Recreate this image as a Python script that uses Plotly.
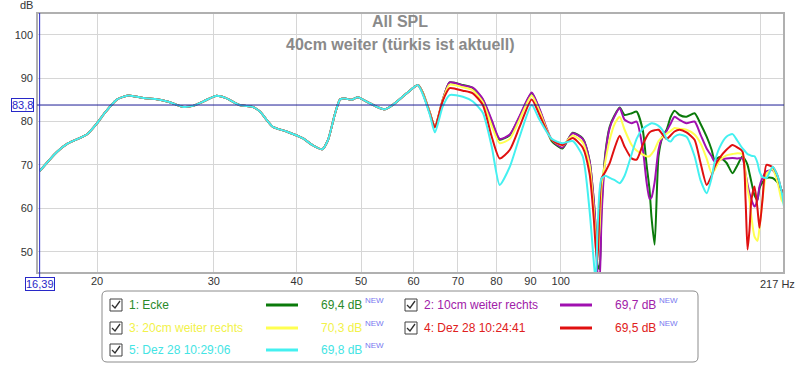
import math
import plotly.graph_objects as go

# ---------------- data ----------------
freq_low = [16.39, 17.4, 18.1, 19.3, 20.0, 20.6, 21.4, 22.3, 23.5, 24.5, 25.7, 26.9, 27.9, 28.9,
            30.2, 31.3, 32.8, 34.4, 35.2, 36.8, 38.6, 40.9, 42.2, 43.7, 44.6, 45.7, 46.5, 47.3,
            48.4, 49.4, 51.0, 52.8, 54.3, 55.8, 58.6, 60.9]
db_low = [68.6, 73.0, 75.0, 77.0, 79.6, 82.2, 85.0, 86.0, 85.4, 85.2, 84.5, 83.4, 83.6, 84.6,
          85.9, 85.4, 83.8, 83.3, 82.3, 78.8, 77.7, 76.1, 74.6, 73.6, 75.8, 81.9, 85.1, 85.3,
          85.0, 85.6, 84.6, 83.4, 82.8, 83.8, 86.5, 88.4]

freq_high = [61.9, 63.5, 64.6, 66.4, 68.0, 71.2, 73.7, 76.3, 78.7, 80.9, 83.8, 86.7, 90.4, 92.9,
             96.9, 100.6, 104.2, 107.9, 110.5, 112.1, 112.9, 113.6, 114.4, 115.2, 116.8, 118.5,
             120.6, 122.7, 124.8, 127.9, 130.1, 132.9, 134.7, 136.1, 137.0, 138.5, 140.4, 142.4,
             144.4, 146.4, 148.4, 151.0, 154.7, 159.1, 162.4, 165.9, 168.8, 170.5, 173.5, 177.7,
             181.5, 184.7, 187.9, 189.9, 191.2, 192.5, 193.8, 195.9, 197.9, 199.3, 201.4, 204.2,
             208.6, 212.2, 215.1, 217.0]

ecke_high = [86.8, 82.0, 78.7, 85.0, 89.0, 88.4, 87.7, 85.0, 80.0, 75.8, 76.9, 81.1, 86.5, 82.7,
             75.5, 73.8, 77.4, 76.1, 71.0, 62.0, 55.0, 47.0, 46.0, 60.0, 73.0, 78.8,
             81.5, 83.2, 81.5, 81.9, 82.3, 78.1, 70.0, 64.2, 58.0, 51.6, 72.0, 76.5,
             78.1, 81.0, 82.5, 81.5, 81.1, 81.9, 79.5, 76.5, 73.5, 71.2, 71.8, 70.5,
             68.1, 70.0, 72.0, 71.0, 70.0, 68.1, 66.0, 63.0, 62.0, 64.6, 66.0, 67.0,
             67.0, 66.0, 64.2, 63.5]
weiter10_high = [86.8, 82.0, 78.7, 85.0, 89.0, 88.3, 87.8, 85.2, 80.3, 76.0, 77.0, 81.3, 86.7, 82.9,
                 75.8, 74.0, 77.3, 76.0, 71.0, 62.0, 55.0, 45.0, 43.0, 58.0, 72.5, 78.5,
                 81.3, 83.1, 80.4, 79.6, 80.0, 73.8, 66.0, 62.2, 62.5, 66.0, 73.5, 76.5,
                 77.8, 79.5, 81.1, 80.4, 79.6, 80.0, 77.0, 73.8, 72.0, 70.8, 71.2, 71.5,
                 71.6, 71.5, 71.5, 68.0, 65.5, 63.5, 62.0, 60.4, 62.0, 65.0, 67.0, 68.5,
                 68.8, 67.0, 64.2, 63.5]
weiter20_high = [86.8, 82.0, 78.7, 85.0, 88.5, 87.9, 87.2, 84.5, 79.0, 75.0, 76.0, 80.5, 86.0, 82.3,
                 75.8, 74.5, 76.8, 75.2, 70.0, 60.0, 53.0, 49.0, 55.0, 65.0, 71.0, 75.8,
                 79.5, 81.1, 78.1, 74.6, 73.3, 72.4, 72.0, 72.0, 72.5, 73.5, 75.5, 76.5,
                 77.2, 77.8, 78.5, 78.3, 78.1, 77.0, 75.0, 71.5, 68.1, 68.8, 71.0, 72.2,
                 72.5, 72.7, 72.5, 68.0, 64.5, 62.0, 58.0, 53.5, 52.5, 55.5, 62.0, 68.0,
                 69.0, 66.0, 62.0, 61.0]
dez2824_high = [86.6, 81.8, 78.7, 84.8, 87.7, 87.1, 86.5, 83.8, 76.5, 71.5, 73.5, 78.8, 85.1, 81.5,
                75.8, 74.6, 76.2, 74.0, 68.0, 58.0, 51.0, 48.0, 60.0, 66.9, 68.5, 70.4,
                74.0, 76.7, 74.2, 71.5, 71.2, 74.6, 76.5, 77.5, 77.8, 78.0, 78.1, 77.0,
                76.0, 76.8, 77.7, 78.1, 77.5, 75.8, 70.5, 65.4, 67.5, 69.5, 71.6, 73.5,
                74.6, 74.0, 73.1, 62.0, 50.5, 55.0, 62.0, 65.0, 60.0, 55.5, 62.0, 70.0,
                69.5, 67.5, 64.2, 63.5]
dez2829_high = [86.4, 81.5, 77.5, 83.5, 86.1, 85.7, 84.6, 82.0, 74.2, 65.4, 69.6, 76.5, 83.8, 80.4,
                76.0, 75.0, 75.5, 72.0, 59.6, 48.0, 43.0, 55.0, 64.0, 66.9, 67.5, 67.0,
                66.5, 65.8, 67.5, 72.5, 76.0, 78.3, 79.0, 79.4, 79.6, 79.5, 79.0, 78.0,
                76.0, 75.4, 76.5, 77.0, 76.5, 72.0, 66.5, 63.5, 67.0, 70.5, 74.0, 76.5,
                77.1, 75.5, 73.8, 73.0, 72.5, 72.3, 72.1, 72.0, 70.5, 68.5, 67.2, 67.0,
                69.6, 67.5, 64.0, 60.4]

series_names = ["1: Ecke", "2: 10cm weiter rechts", "3: 20cm weiter rechts",
                "4: Dez 28 10:24:41", "5: Dez 28 10:29:06"]
series_levels = ["69,4 dB", "69,7 dB", "70,3 dB", "69,5 dB", "69,8 dB"]
series_colors = ["#0a7a0a", "#a010b0", "#ffff50", "#e01010", "#44f0f0"]
text_colors = ["#2a8a2a", "#a020a8", "#f2f24a", "#e02020", "#44e4e4"]
series_high = [ecke_high, weiter10_high, weiter20_high, dez2824_high, dez2829_high]

x_ticks = [20, 30, 40, 50, 60, 70, 80, 90, 100, 200]
x_tick_text = ["20", "30", "40", "50", "60", "70", "80", "90", "100", ""]
x_end_label = "217 Hz"
x_end = 217
y_ticks = [50, 60, 70, 80, 90, 100]
cursor_freq = 16.39
cursor_db = 83.8

# ---------------- layout geometry ----------------
W, H = 800, 365
L, R, T, B = 37, 784, 13, 273


def px(x):
    return (x - L) / (R - L)


def py(y):
    return (B - y) / (B - T)


fig = go.Figure()
for i in range(5):
    fig.add_trace(go.Scatter(
        x=freq_low + freq_high, y=db_low + series_high[i],
        mode="lines", line=dict(color=series_colors[i], width=2, shape="spline", smoothing=0.6),
        name=series_names[i], showlegend=False, hoverinfo="skip"))

FONT = "Liberation Sans, Arial, sans-serif"
shapes = []
ann = []

# frame
shapes.append(dict(type="rect", xref="paper", yref="paper", x0=0, x1=1, y0=0, y1=1,
                   line=dict(color="#b0b0b0", width=2), layer="above"))
# cursor lines
shapes.append(dict(type="line", xref="paper", yref="y", x0=0, x1=1, y0=cursor_db, y1=cursor_db,
                   line=dict(color="#1c1c96", width=1)))
shapes.append(dict(type="line", xref="x", yref="paper", x0=cursor_freq, x1=cursor_freq,
                   y0=py(279), y1=1, line=dict(color="#2828c8", width=1)))

ann.append(dict(xref="paper", yref="paper", x=px(22.5), y=py(105), text="83,8", showarrow=False,
                font=dict(family=FONT, size=11, color="#2828c8"), bgcolor="white",
                bordercolor="#2828c8", borderwidth=1, borderpad=0, xanchor="center", yanchor="middle"))
ann.append(dict(xref="x", yref="paper", x=math.log10(cursor_freq), y=py(284), text="16,39", showarrow=False,
                font=dict(family=FONT, size=11, color="#2828c8"), bgcolor="white",
                bordercolor="#2828c8", borderwidth=1, borderpad=0, xanchor="center", yanchor="middle"))
ann.append(dict(xref="paper", yref="paper", x=px(797), y=py(284), text=x_end_label, showarrow=False,
                font=dict(family=FONT, size=11, color="#333333"), xanchor="right", yanchor="middle"))
ann.append(dict(xref="paper", yref="paper", x=px(26), y=py(5), text="dB", showarrow=False,
                font=dict(family=FONT, size=11, color="#333333"), xanchor="center", yanchor="middle"))
# titles
ann.append(dict(xref="paper", yref="paper", x=px(400), y=py(22), text="<b>All SPL</b>", showarrow=False,
                font=dict(family=FONT, size=16, color="#8a8a8a"), xanchor="center", yanchor="middle"))
ann.append(dict(xref="paper", yref="paper", x=px(400), y=py(44),
                text="<b>40cm weiter (türkis ist aktuell)</b>", showarrow=False,
                font=dict(family=FONT, size=16, color="#8a8a8a"), xanchor="center", yanchor="middle"))

# legend box (rounded)
bx0, bx1, by0, by1, rr = 102, 698, 291, 362, 5
path = (f"M {px(bx0+rr)},{py(by0)} L {px(bx1-rr)},{py(by0)} Q {px(bx1)},{py(by0)} {px(bx1)},{py(by0+rr)} "
        f"L {px(bx1)},{py(by1-rr)} Q {px(bx1)},{py(by1)} {px(bx1-rr)},{py(by1)} "
        f"L {px(bx0+rr)},{py(by1)} Q {px(bx0)},{py(by1)} {px(bx0)},{py(by1-rr)} "
        f"L {px(bx0)},{py(by0+rr)} Q {px(bx0)},{py(by0)} {px(bx0+rr)},{py(by0)} Z")
shapes.append(dict(type="path", xref="paper", yref="paper", path=path,
                   line=dict(color="#8c8c8c", width=1), fillcolor="white"))

slots = [(0, 305), (1, 305), (0, 328), (1, 328), (0, 350)]
col_x = [dict(cb=110, txt=127, l0=266, l1=298, val=364),
         dict(cb=405, txt=422, l0=560, l1=592, val=658)]
for i in range(5):
    c, yy = slots[i]
    cx = col_x[c]
    cb = cx["cb"]
    shapes.append(dict(type="rect", xref="paper", yref="paper", x0=px(cb), x1=px(cb + 12),
                       y0=py(yy - 6), y1=py(yy + 6), line=dict(color="#404040", width=1)))
    shapes.append(dict(type="path", xref="paper", yref="paper",
                       path=f"M {px(cb+2)},{py(yy)} L {px(cb+5)},{py(yy+3)} L {px(cb+10)},{py(yy-4)}",
                       line=dict(color="#303030", width=1.3)))
    ann.append(dict(xref="paper", yref="paper", x=px(cx["txt"]), y=py(yy), text=series_names[i],
                    showarrow=False, font=dict(family=FONT, size=12, color=text_colors[i]),
                    xanchor="left", yanchor="middle"))
    shapes.append(dict(type="line", xref="paper", yref="paper", x0=px(cx["l0"]), x1=px(cx["l1"]),
                       y0=py(yy), y1=py(yy), line=dict(color=series_colors[i], width=3)))
    ann.append(dict(xref="paper", yref="paper", x=px(cx["val"]), y=py(yy), text=series_levels[i],
                    showarrow=False, font=dict(family=FONT, size=12, color=text_colors[i]),
                    xanchor="right", yanchor="middle"))
    ann.append(dict(xref="paper", yref="paper", x=px(cx["val"] - 1), y=py(yy - 5), text="NEW",
                    showarrow=False, font=dict(family=FONT, size=8, color="#7878f0"),
                    xanchor="left", yanchor="middle"))

fig.update_layout(
    width=W, height=H,
    margin=dict(l=L, r=W - R, t=T, b=H - B, pad=0, autoexpand=False),
    paper_bgcolor="white", plot_bgcolor="white",
    showlegend=False,
    shapes=shapes, annotations=ann,
    font=dict(family=FONT),
    xaxis=dict(type="log", range=[math.log10(16.24), math.log10(217)], tickvals=x_ticks,
               ticktext=x_tick_text, showgrid=True, gridcolor="#d6d6d6", gridwidth=1, automargin=False,
               zeroline=False, showline=False, ticks="", tickfont=dict(size=11, color="#333333")),
    yaxis=dict(range=[45.1, 105], tickvals=y_ticks, showgrid=True, gridcolor="#d6d6d6", gridwidth=1,
               zeroline=False, showline=False, ticks="", ticklabelstandoff=3, automargin=False,
               tickfont=dict(size=11, color="#333333")),
)

fig.write_html("out.html", config={"displayModeBar": False},
               post_script="document.body.style.margin='0px';")
